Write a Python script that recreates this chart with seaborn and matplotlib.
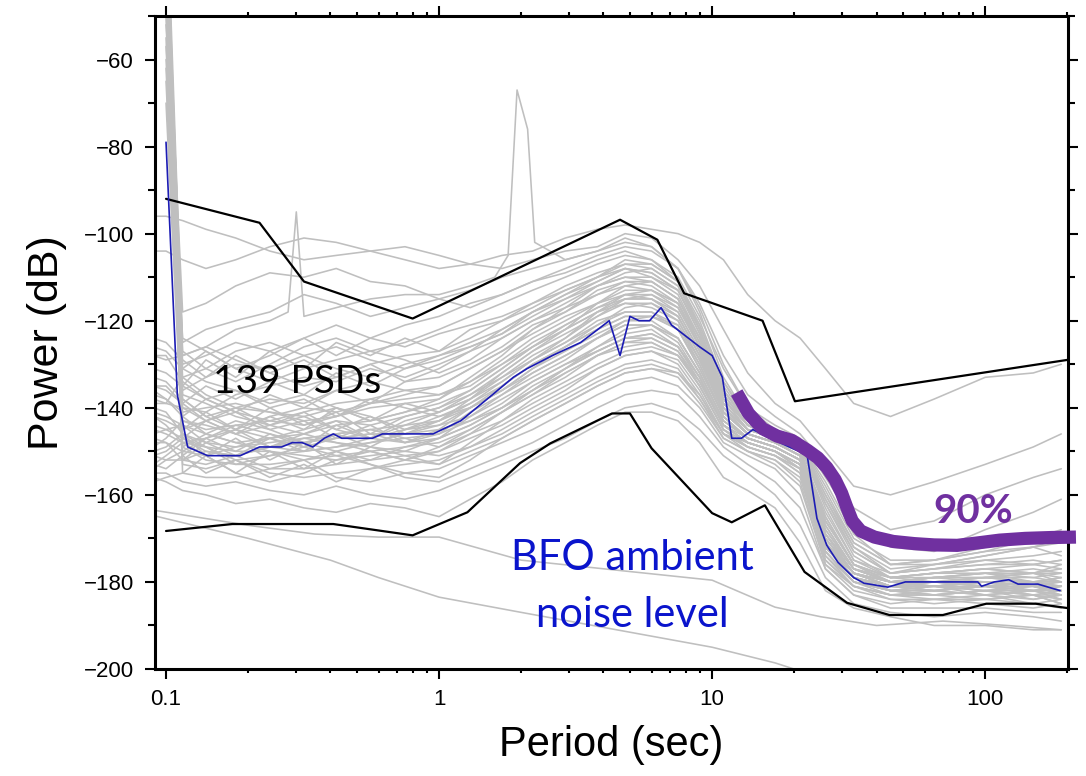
import numpy as np
import pandas as pd
import matplotlib
matplotlib.use("Agg")
import matplotlib.pyplot as plt
import seaborn as sns
from matplotlib.ticker import FixedLocator, NullFormatter, MultipleLocator

nan = np.nan

# period grid (s) shared by the individual PSD curves
grid_period = [0.09, 0.1, 0.115, 0.14, 0.18, 0.24, 0.32, 0.42, 0.56, 0.75, 1.0, 1.3, 1.7, 2.2, 2.9,
               3.8, 4.8, 6.0, 7.5, 9.0, 11, 13.5, 17, 21, 26, 33, 45, 65, 100, 150, 190]

# individual PSDs (dB)
gray_psds = [
    [-96, -96, -97, -99, -101, -104, -106, -105, -104, -106, -108, -107, -105, -104, -101, -99, -98, -99, -100, -102, -106, -114, -120, -124, -131, -139, -142, -138, -133, -132, -130],
    [-104, -104, -106, -108, -106, -103, -101, -102, -104, -103, -105, -107, -108, -106, -104, -103, -100, -101, -106, -112, -122, -132, -139, -143, -150, -158, -160, -157, -153, -149, -146],
    [nan, -38, -118, -116, -112, -109, -110, -108, -111, -112, -115, -113, -110, -108, -106, -104, -102, -103, -108, -116, -128, -137, -142, -146, -153, -163, -168, -166, -160, -156, -154],
    [nan, -30, -125, -122, -120, -118, -114, -116, -119, -117, -115, -117, -114, -111, -109, -106, -104, -106, -110, -119, -131, -140, -144, -147, -156, -166, -172, -173, -168, -164, -161],
    [nan, -22, -130, -128, -125, -127, -124, -121, -124, -126, -123, -121, -119, -116, -112, -109, -107, -108, -112, -121, -134, -142, -145, -148, -157, -169, -176, -176, -174, -172, -170],
    [nan, -42, -136, -133, -130, -131, -128, -126, -129, -131, -128, -125, -122, -118, -115, -112, -110, -110, -114, -124, -137, -144, -146, -149, -162, -174, -179, -180, -179, -178, -176],
    [-138, -139, -140, -141, -137, -135, -133, -134, -131, -133, -130, -127, -124, -120, -117, -114, -112, -113, -117, -126, -139, -145, -147, -150, -166, -176, -180, -179, -180, -181, -180],
    [-142, -143, -145, -143, -140, -138, -139, -136, -134, -136, -135, -131, -127, -123, -119, -116, -114, -115, -119, -128, -140, -146, -148, -150, -168, -177, -180, -181, -180, -182, -181],
    [-145, -146, -148, -147, -145, -142, -140, -141, -139, -138, -137, -134, -130, -126, -122, -118, -116, -116, -120, -129, -141, -146, -148, -151, -170, -178, -181, -180, -181, -180, -182],
    [-148, -148, -150, -151, -149, -147, -145, -143, -144, -142, -140, -137, -133, -129, -125, -120, -118, -118, -122, -131, -142, -147, -149, -152, -171, -179, -181, -182, -181, -183, -183],
    [nan, -35, -152, -150, -151, -149, -148, -147, -146, -146, -144, -140, -136, -131, -127, -123, -120, -120, -124, -132, -143, -147, -149, -152, -172, -179, -182, -183, -182, -182, -184],
    [nan, -48, -153, -154, -152, -151, -150, -149, -148, -147, -146, -143, -139, -134, -130, -126, -123, -122, -126, -134, -144, -148, -150, -153, -173, -180, -182, -181, -183, -184, -183],
    [nan, -15, -149, -152, -153, -153, -152, -151, -150, -149, -148, -145, -141, -137, -133, -128, -125, -124, -127, -135, -145, -148, -150, -154, -174, -181, -183, -183, -184, -183, -185],
    [nan, -55, -147, -150, -151, -154, -154, -153, -152, -151, -150, -147, -144, -140, -136, -131, -128, -127, -129, -136, -146, -149, -151, -155, -175, -181, -184, -184, -183, -185, -184],
    [-140, -141, -146, -149, -152, -155, -156, -155, -154, -153, -152, -149, -146, -142, -138, -134, -131, -130, -132, -138, -147, -150, -152, -157, -176, -182, -184, -185, -184, -185, -186],
    [-136, -138, -142, -146, -148, -150, -152, -156, -157, -155, -154, -151, -148, -145, -141, -137, -134, -133, -135, -140, -148, -151, -154, -160, -177, -183, -185, -184, -185, -186, -185],
    [-133, -134, -138, -142, -145, -147, -149, -151, -153, -156, -157, -154, -151, -148, -144, -140, -137, -136, -137, -142, -149, -153, -157, -163, -177, -183, -186, -186, -186, -187, -187],
    [-155, -155, -157, -158, -157, -159, -160, -158, -160, -161, -159, -156, -153, -150, -147, -143, -140, -139, -141, -145, -151, -155, -160, -167, -179, -185, -187, -188, -187, -188, -189],
    [-156, -157, -159, -160, -162, -161, -163, -164, -162, -163, -165, -161, -157, -152, -148, -144, -141, -141, -143, -148, -156, -159, -163, -171, -182, -186, -188, -190, -190, -191, -191],
    [nan, -28, -140, -143, -146, -144, -142, -140, -142, -145, -143, -139, -134, -129, -124, -119, -115, -114, -117, -126, -140, -145, -147, -150, -167, -177, -180, -179, -178, -179, -178],
    [nan, -45, -135, -138, -141, -143, -144, -142, -140, -139, -141, -138, -132, -127, -122, -116, -112, -111, -115, -125, -139, -145, -147, -150, -166, -176, -179, -178, -177, -176, -177],
    [nan, -60, -131, -134, -136, -139, -137, -140, -143, -141, -138, -133, -128, -122, -117, -112, -109, -108, -112, -122, -136, -143, -146, -149, -160, -172, -177, -176, -174, -172, -174],
    [-139, -139, -133, -137, -140, -141, -142, -145, -147, -148, -146, -141, -137, -133, -129, -124, -121, -121, -125, -133, -144, -147, -149, -152, -172, -179, -181, -181, -180, -180, -181],
    [-149, -147, -143, -145, -144, -146, -148, -146, -145, -147, -149, -146, -143, -139, -135, -131, -128, -127, -130, -137, -146, -148, -150, -154, -173, -180, -182, -182, -181, -182, -182],
    [-153, -151, -148, -149, -150, -150, -151, -152, -151, -150, -151, -149, -145, -141, -137, -133, -130, -129, -131, -138, -146, -149, -151, -155, -174, -180, -183, -182, -183, -182, -183],
    [nan, -40, -137, -139, -142, -144, -146, -148, -149, -151, -153, -150, -147, -143, -139, -135, -132, -131, -133, -139, -147, -150, -152, -156, -175, -181, -183, -183, -182, -183, -184],
    [-146, -145, -144, -146, -148, -147, -146, -144, -143, -141, -139, -136, -131, -126, -121, -117, -114, -114, -118, -127, -141, -146, -148, -151, -169, -177, -179, -179, -178, -178, -179],
    [-151, -152, -152, -153, -151, -149, -147, -148, -150, -152, -150, -146, -141, -136, -131, -126, -122, -121, -124, -132, -143, -147, -149, -152, -171, -178, -180, -180, -179, -180, -180],
    [nan, -25, -128, -126, -129, -132, -135, -133, -130, -128, -127, -124, -120, -116, -113, -110, -108, -109, -113, -123, -137, -144, -146, -149, -161, -172, -178, -177, -176, -175, -176],
    [nan, -52, -124, -127, -131, -134, -131, -129, -127, -125, -122, -119, -116, -113, -110, -107, -105, -106, -111, -122, -136, -143, -146, -148, -158, -170, -175, -175, -173, -170, -168],
    [nan, -65, -146, -148, -149, -148, -147, -146, -145, -144, -143, -140, -135, -130, -126, -122, -119, -119, -122, -130, -142, -147, -149, -152, -171, -178, -181, -180, -180, -181, -181],
    [-137, -138, -141, -140, -139, -141, -143, -142, -138, -136, -137, -135, -130, -125, -121, -117, -115, -115, -118, -127, -140, -146, -148, -151, -169, -177, -180, -179, -179, -178, -180],
    [-154, -152, -150, -147, -144, -143, -141, -139, -138, -140, -142, -140, -136, -132, -128, -124, -120, -119, -121, -129, -141, -146, -148, -151, -170, -178, -180, -181, -180, -181, -182],
    [nan, -33, -143, -144, -146, -149, -150, -149, -147, -145, -144, -142, -138, -134, -130, -127, -124, -123, -126, -133, -144, -148, -150, -153, -172, -179, -181, -182, -181, -181, -182],
    [-142, -144, -148, -151, -155, -157, -155, -152, -150, -152, -153, -148, -143, -138, -134, -130, -127, -126, -128, -135, -145, -149, -151, -154, -173, -180, -182, -183, -182, -184, -183],
    [-157, -156, -155, -156, -156, -154, -152, -150, -153, -155, -156, -152, -147, -143, -139, -135, -132, -131, -132, -137, -146, -150, -153, -158, -176, -181, -183, -184, -184, -183, -185],
    [nan, -18, -127, -131, -134, -130, -126, -124, -127, -129, -132, -129, -124, -120, -116, -112, -110, -111, -115, -124, -138, -144, -147, -150, -165, -176, -179, -178, -177, -178, -177],
    [nan, -57, -133, -131, -127, -125, -128, -131, -133, -130, -128, -126, -123, -119, -115, -111, -108, -109, -113, -123, -137, -144, -146, -149, -163, -175, -178, -176, -175, -174, -173],
    [nan, -70, -149, -146, -143, -145, -148, -150, -148, -146, -145, -143, -140, -136, -132, -128, -126, -125, -128, -134, -144, -148, -150, -153, -172, -179, -182, -181, -182, -181, -182],
    [-151, -150, -147, -149, -153, -151, -149, -147, -146, -148, -147, -144, -140, -136, -131, -127, -124, -124, -127, -134, -144, -148, -150, -153, -172, -179, -181, -181, -182, -183, -182],
    [-131, -132, -135, -129, -133, -127, -131, -125, -128, -124, -127, -122, -120, -117, -113, -110, -106, -107, -111, -120, -134, -143, -146, -149, -162, -173, -178, -177, -175, -176, -175],
    [-135, -136, -139, -135, -138, -134, -137, -132, -135, -131, -129, -126, -123, -118, -114, -111, -108, -110, -113, -122, -136, -144, -147, -150, -164, -175, -179, -178, -178, -177, -178],
    [nan, -27, -142, -138, -141, -137, -140, -136, -139, -134, -133, -130, -126, -121, -118, -113, -111, -112, -116, -125, -138, -145, -147, -150, -166, -176, -180, -179, -178, -180, -179],
    [-144, -145, -147, -143, -146, -142, -145, -140, -143, -139, -138, -134, -129, -124, -120, -116, -113, -113, -116, -126, -139, -145, -147, -150, -167, -177, -180, -180, -179, -179, -180],
    [nan, -36, -151, -147, -150, -146, -149, -144, -147, -143, -141, -137, -132, -127, -123, -119, -116, -117, -120, -129, -141, -146, -148, -151, -169, -178, -181, -180, -181, -180, -181],
    [-150, -149, -146, -151, -147, -152, -148, -153, -149, -150, -147, -142, -137, -132, -128, -124, -121, -121, -124, -132, -143, -147, -149, -152, -171, -179, -181, -182, -181, -182, -181],
    [-135, -135, -139, -143, -141, -145, -143, -147, -144, -148, -145, -140, -136, -131, -126, -121, -117, -116, -119, -128, -141, -146, -148, -151, -170, -178, -180, -181, -180, -181, -182],
    [nan, -50, -138, -142, -140, -144, -141, -145, -142, -146, -143, -138, -133, -128, -124, -118, -114, -113, -116, -126, -140, -145, -147, -150, -168, -177, -180, -179, -179, -180, -179],
    [-128, -128, -134, -138, -136, -140, -138, -142, -139, -137, -135, -131, -127, -122, -118, -114, -111, -111, -115, -124, -138, -144, -147, -150, -165, -176, -179, -178, -177, -178, -178],
    [-153, -154, -151, -155, -152, -156, -153, -157, -154, -152, -149, -145, -141, -137, -132, -128, -125, -125, -128, -135, -145, -149, -151, -154, -173, -180, -182, -182, -183, -182, -183],
    [nan, -62, -145, -141, -145, -140, -144, -141, -146, -142, -140, -136, -131, -126, -122, -118, -115, -115, -119, -128, -141, -146, -148, -151, -169, -178, -180, -180, -181, -180, -180],
    [-141, -142, -144, -148, -145, -149, -146, -143, -147, -144, -141, -138, -134, -129, -125, -121, -118, -118, -121, -130, -142, -147, -149, -152, -171, -178, -181, -181, -180, -181, -181],
    [-124, -125, -129, -133, -128, -132, -129, -133, -130, -134, -131, -127, -122, -118, -114, -110, -107, -107, -111, -121, -135, -143, -146, -149, -161, -173, -178, -177, -176, -176, -175],
    [nan, -44, -155, -151, -155, -150, -154, -150, -152, -149, -147, -144, -140, -135, -131, -127, -124, -123, -126, -133, -144, -148, -150, -153, -172, -179, -182, -183, -182, -181, -183],
    [-147, -148, -152, -148, -151, -147, -150, -146, -149, -145, -142, -139, -135, -130, -126, -122, -119, -119, -122, -131, -142, -147, -149, -152, -170, -178, -181, -181, -181, -182, -181],
    [-126, -127, -131, -127, -131, -128, -124, -128, -124, -121, -119, -116, -114, -111, -108, -105, -103, -104, -108, -118, -133, -142, -145, -148, -159, -171, -176, -175, -173, -172, -171],
]

# grey curves with their own sampling
spike_period = [0.09, 0.1, 0.115, 0.14, 0.18, 0.24, 0.28, 0.3, 0.32, 0.42, 0.56, 0.75, 1.0, 1.3, 1.6, 1.79, 1.93, 2.11,
                2.24, 2.9, 3.8, 4.8, 6.0, 7.5, 9.0, 11, 13.5, 17, 21, 26, 33, 45, 65, 100, 150, 190]
spike_power = [-128, -129, -128, -126, -122, -120, -118, -95, -119, -117, -115, -114, -114, -112, -110, -105, -67, -76,
               -102, -106, -104, -101, -103, -108, -117, -130, -140, -145, -148, -160, -171, -176, -175, -172, -170, -169]
low1_period = [0.08, 0.2, 0.4, 0.6, 1.0, 2.0, 10, 17, 25]
low1_power = [-164, -170, -175, -179, -183.5, -187, -195, -198.6, -202]
low2_period = [0.08, 0.2, 0.35, 0.6, 1.0, 2.0, 10, 17, 25, 40, 70, 120, 190]
low2_power = [-163, -167, -169, -169.7, -169.7, -175, -179.6, -185.8, -188, -190, -189, -190, -191]

# envelopes (black)
max_period = [0.1, 0.22, 0.32, 0.8, 4.6, 6.3, 7.9, 15.3, 20.1, 200]
max_power = [-92, -97.5, -111, -119.5, -96.8, -101.4, -113.7, -120, -138.5, -129]
min_period = [0.1, 0.175, 0.41, 0.8, 1.27, 1.98, 2.55, 4.3, 5.0, 6.0, 10, 11.8, 15.6, 21.8, 31.2, 44.6, 70, 101, 153, 200]
min_power = [-168.3, -166.7, -166.7, -169.3, -164, -152.7, -148.2, -141.3, -141.3, -149.3, -164.2, -166.3, -162.4,
             -177.7, -184.8, -187.6, -187.6, -185, -185, -186]

# median (blue)
med_period = [0.1, 0.11, 0.12, 0.142, 0.187, 0.22, 0.265, 0.29, 0.315, 0.345, 0.38, 0.41, 0.44, 0.57, 0.62, 0.95,
              1.2, 1.5, 1.87, 2.1, 2.6, 3.3, 4.2, 4.6, 5.0, 5.4, 5.9, 6.5, 7.1, 9.0, 10.0, 10.9, 11.8, 12.8, 14.1,
              17.0, 20.8, 22.3, 24.2, 26.3, 28.9, 33, 36, 44, 51, 94, 97, 108, 122, 132, 156, 188]
med_power = [-79, -137, -149, -151, -151, -149, -149, -148, -148, -149, -147, -146, -147, -147, -146, -146,
             -143, -138, -133, -131, -128, -125, -120, -128, -119, -120, -120, -117, -121, -126, -128, -133, -147, -147, -145,
             -147.5, -150, -151, -165.4, -171.6, -175.5, -179, -180.3, -181.2, -180, -180, -181, -180, -179.5, -180.5, -180.5, -182]

# 90 % level (purple)
p90_period = [12.3, 13.6, 15.3, 17.3, 19.6, 22.4, 24.4, 26.3, 28.2, 29.8, 31.2, 32.6, 35, 39.3, 46, 55, 65, 79,
              95, 113, 140, 175, 215]
p90_power = [-136.5, -141.3, -144.8, -146.5, -147.5, -149.8, -151.5, -153.7, -156.5, -159.6, -163, -166, -168.3,
             -169.7, -170.7, -171.2, -171.5, -171.6, -171, -170.4, -170, -169.8, -169.7]

sns.set_style("ticks", {"axes.edgecolor": "black", "xtick.color": "black", "ytick.color": "black",
                        "text.color": "black", "axes.labelcolor": "black"})
plt.rcParams["font.family"] = ["Liberation Sans", "DejaVu Sans"]

frames = [pd.DataFrame({"period": grid_period, "power": p, "psd": f"psd{i}"}) for i, p in enumerate(gray_psds)]
frames.append(pd.DataFrame({"period": spike_period, "power": spike_power, "psd": "spike"}))
frames.append(pd.DataFrame({"period": low1_period, "power": low1_power, "psd": "low1"}))
frames.append(pd.DataFrame({"period": low2_period, "power": low2_power, "psd": "low2"}))
gray_df = pd.concat(frames, ignore_index=True).dropna()

fig = plt.figure(figsize=(10.86, 7.76), dpi=100)
ax = fig.add_axes([0.1427, 0.1379, 0.8407, 0.8415])
ax.set_xscale("log")

sns.lineplot(data=gray_df, x="period", y="power", units="psd", estimator=None, color="#bfbfbf",
             lw=1.15, ax=ax, legend=False, zorder=1)
sns.lineplot(x=max_period, y=max_power, color="black", lw=1.6, ax=ax, zorder=2)
sns.lineplot(x=min_period, y=min_power, color="black", lw=1.6, ax=ax, zorder=2)
sns.lineplot(x=med_period, y=med_power, color="#1c1cb4", lw=1.2, ax=ax, zorder=3)
sns.lineplot(x=p90_period, y=p90_power, color="#7030a0", lw=9.5, ax=ax, zorder=4,
             clip_on=False, solid_capstyle="butt", solid_joinstyle="round")

ax.set_xlim(0.0911, 201)
ax.set_ylim(-200, -50)

ax.xaxis.set_major_locator(FixedLocator([0.1, 1, 10, 100]))
ax.set_xticklabels(["0.1", "1", "10", "100"])
ax.xaxis.set_minor_locator(FixedLocator([m * d for d in [0.1, 1, 10, 100] for m in range(2, 10)]))
ax.xaxis.set_minor_formatter(NullFormatter())
ax.yaxis.set_major_locator(MultipleLocator(20))
ax.yaxis.set_minor_locator(MultipleLocator(10))

for s in ax.spines.values():
    s.set_linewidth(2.2)
    s.set_color("black")
    s.set_visible(True)
ax.tick_params(which="both", direction="out", top=True, right=True, width=1.5, labelsize=16,
               colors="black", labelcolor="black")
ax.tick_params(axis="x", which="major", length=7.2, pad=7)
ax.tick_params(axis="x", which="minor", length=3.2)
ax.tick_params(axis="y", which="major", length=7.2, pad=8)
ax.tick_params(axis="y", which="minor", length=5)

ax.set_xlabel("Period (sec)", fontsize=30, labelpad=11, color="black")
ax.set_ylabel("Power (dB)", fontsize=31, labelpad=12, color="black")

ax.text(0.1486, -136.6, "139 PSDs", fontsize=28, family=["Lato", "DejaVu Sans"], color="black",
        ha="left", va="baseline", zorder=5)
ax.text(5.09, -177.2, "BFO ambient", fontsize=30, family=["Lato", "DejaVu Sans"], color="#0a14cc",
        ha="center", va="baseline", zorder=5)
ax.text(5.09, -190.3, "noise level", fontsize=30, family=["Lato", "DejaVu Sans"], color="#0a14cc",
        ha="center", va="baseline", zorder=5)
ax.text(64.5, -166.4, "90%", fontsize=29, family=["Lato", "DejaVu Sans"], fontweight="bold", color="#7030a0",
        ha="left", va="baseline", zorder=5)

fig.savefig("out.png", dpi=100)
